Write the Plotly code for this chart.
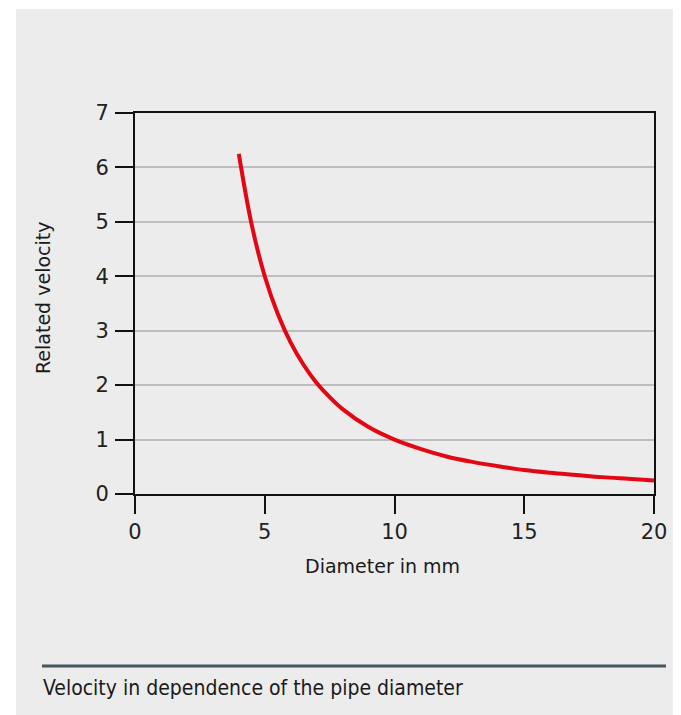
import plotly.graph_objects as go

diameter_mm = [4, 4.5, 5, 5.5, 6, 6.5, 7, 7.5, 8, 9, 10, 11, 12, 13, 14, 15, 16, 17, 18, 19, 20]
related_velocity = [6.25, 4.94, 4.0, 3.31, 2.78, 2.37, 2.04, 1.78, 1.56, 1.23, 1.0, 0.83, 0.69,
                    0.59, 0.51, 0.44, 0.39, 0.35, 0.31, 0.28, 0.25]
x_ticks = [0, 5, 10, 15, 20]
y_ticks = [0, 1, 2, 3, 4, 5, 6, 7]
x_grid_at = [10]

# page body adds an 8px offset; figure coordinates below are screen minus 8
W, H = 673, 707
L, R, T, B = 127, 646, 105, 486

def px(x):
    return (x - L) / (R - L)

def py(y):
    return (B - y) / (B - T)

fig = go.Figure()
fig.add_trace(go.Scatter(x=diameter_mm, y=related_velocity, mode="lines",
                         line=dict(color="#e30613", width=4, shape="spline"),
                         showlegend=False, hoverinfo="skip"))

font = "DejaVu Sans"
tickfont = dict(size=21, family=font, color="#222")
fig.update_layout(
    width=W, height=H,
    margin=dict(l=L, r=W - R, t=T, b=H - B, pad=0),
    paper_bgcolor="white", plot_bgcolor="white",
    font=dict(family=font, color="#1a1a1a"),
    xaxis=dict(range=[0, 20], tickvals=x_ticks, showgrid=False, zeroline=False,
               showline=True, linecolor="#111", linewidth=2, mirror=True,
               ticks="outside", ticklen=18, tickwidth=2, tickcolor="#111",
               ticklabelstandoff=0, tickfont=tickfont),
    yaxis=dict(range=[0, 7], tickvals=y_ticks, showgrid=True, gridcolor="#bdbdbd", gridwidth=1.5,
               zeroline=False, showline=True, linecolor="#111", linewidth=2, mirror=True,
               ticks="outside", ticklen=18, tickwidth=2, tickcolor="#111",
               ticklabelstandoff=2, tickfont=tickfont),
)

for xv in x_grid_at:
    fig.add_shape(type="line", xref="x", yref="paper", x0=xv, x1=xv, y0=0, y1=1,
                  line=dict(color="#bdbdbd", width=1.5), layer="below")

fig.add_shape(type="rect", xref="paper", yref="paper",
              x0=px(8), x1=px(W + 2), y0=py(H + 2), y1=py(1),
              fillcolor="#ececec", line=dict(width=0), layer="below")
fig.add_shape(type="line", xref="paper", yref="paper",
              x0=px(34), x1=px(658), y0=py(658), y1=py(658),
              line=dict(color="#47555d", width=3))

fig.add_annotation(text="Diameter in mm", xref="paper", yref="paper",
                   x=px(374), y=py(558), xanchor="center", yanchor="middle", showarrow=False,
                   font=dict(size=19, family=font, color="#1a1a1a"))
fig.add_annotation(text="Related velocity", xref="paper", yref="paper",
                   x=px(35), y=py(290), xanchor="center", yanchor="middle",
                   showarrow=False, textangle=-90,
                   font=dict(size=19, family=font, color="#1a1a1a"))
fig.add_annotation(text="Velocity in dependence of the pipe diameter", xref="paper", yref="paper",
                   x=px(33), y=py(680), xanchor="left", yanchor="middle", showarrow=False,
                   font=dict(size=21, family="DejaVu Sans Condensed, Roboto", color="#1a1a1a"))

fig.write_html("out.html")
